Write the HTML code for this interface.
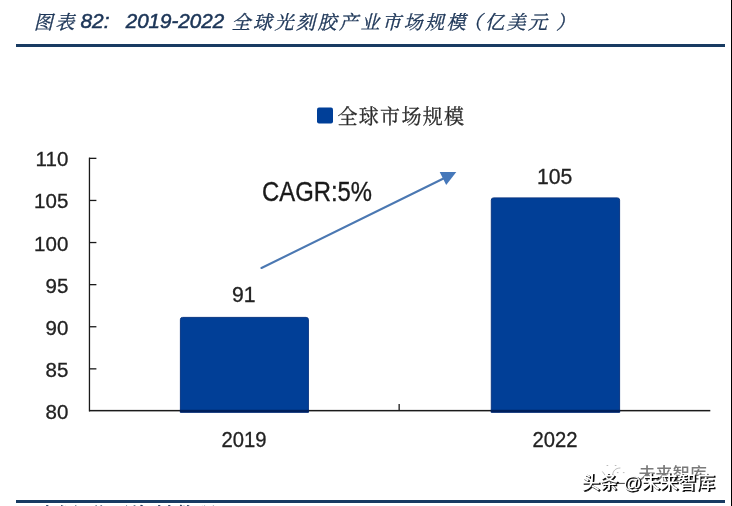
<!DOCTYPE html>
<html lang="zh-CN">
<head>
<meta charset="utf-8">
<title>图表 82: 2019-2022 全球光刻胶产业市场规模（亿美元）</title>
<style>
  html, body { margin: 0; padding: 0; background: #ffffff; }
  body { width: 732px; height: 506px; overflow: hidden; position: relative; }
  svg { display: block; position: absolute; left: 0; top: 0; }
  text { font-family: "Liberation Sans", "Noto Sans CJK SC", sans-serif; }
  .kai { font-family: "Liberation Serif", "Noto Serif CJK SC", serif; }
  .ttl { fill: #1c3557; font-style: italic; }
  .num { fill: #222222; }
  .wm  { font-family: "Liberation Sans", "Noto Sans CJK SC", sans-serif; font-weight: 700; }
</style>
</head>
<body>
<svg width="732" height="506" viewBox="0 0 732 506">
  <rect x="0" y="0" width="732" height="506" fill="#ffffff"/>

  <!-- title -->
  <g class="ttl" stroke="#1c3557" stroke-width="0.35">
    <text class="kai" x="33.8" y="29.2" font-size="19" letter-spacing="2.5">图表</text>
    <text x="80.5" y="28.2" font-size="21" stroke-width="0.55" textLength="29" lengthAdjust="spacingAndGlyphs">82:</text>
    <text x="125.7" y="28.2" font-size="21" stroke-width="0.55" textLength="98.5" lengthAdjust="spacingAndGlyphs">2019-2022</text>
    <text class="kai" x="231.5" y="29.2" font-size="19" letter-spacing="2.5">全球光刻胶产业市场规模<tspan dx="-5">（</tspan><tspan dx="0.5">亿</tspan>美元<tspan dx="6.5">）</tspan></text>
  </g>

  <!-- rules -->
  <rect x="16" y="44" width="709" height="3" fill="#183b62"/>
  <rect x="16" y="500" width="709" height="3" fill="#183b62"/>
  <rect x="731" y="0" width="1" height="506" fill="#000000"/>

  <!-- legend -->
  <rect x="317" y="107.5" width="16" height="16" rx="2" ry="2" fill="#003f98"/>
  <text class="kai" x="337.5" y="123.7" font-size="20" letter-spacing="1.3" fill="#2a2a2a" stroke="#2a2a2a" stroke-width="0.3">全球市场规模</text>

  <!-- axes -->
  <g fill="#1a1a1a">
    <rect x="88.8" y="157.7" width="1.3" height="253.7"/>
    <rect x="89" y="409.9" width="621.3" height="1.5"/>
    <rect x="89" y="157.7" width="7.4" height="1.3"/>
    <rect x="89" y="199.8" width="7.4" height="1.3"/>
    <rect x="89" y="241.9" width="7.4" height="1.3"/>
    <rect x="89" y="284.0" width="7.4" height="1.3"/>
    <rect x="89" y="326.1" width="7.4" height="1.3"/>
    <rect x="89" y="368.2" width="7.4" height="1.3"/>
    <rect x="398.5" y="404" width="1.3" height="7"/>
  </g>

  <!-- y labels -->
  <g class="num" font-size="20.5" text-anchor="end" stroke="#222222" stroke-width="0.3">
    <text x="68.3" y="166.2">110</text>
    <text x="68.3" y="208.3">105</text>
    <text x="68.3" y="250.5">100</text>
    <text x="68.3" y="292.6">95</text>
    <text x="68.3" y="334.7">90</text>
    <text x="68.3" y="376.9">85</text>
    <text x="68.3" y="419.0">80</text>
  </g>

  <!-- bars -->
  <path d="M180.4 412.3 V319.6 Q180.4 317.4 182.6 317.4 H306.2 Q308.4 317.4 308.4 319.6 V412.3 Z" fill="#013f97" stroke="#0a3682" stroke-width="1"/>
  <path d="M491.3 412.3 V200.1 Q491.3 197.9 493.5 197.9 H617.4 Q619.6 197.9 619.6 200.1 V412.3 Z" fill="#013f97" stroke="#0a3682" stroke-width="1"/>
  <rect x="179.9" y="409.8" width="129" height="2.5" fill="#00205c"/>
  <rect x="490.8" y="409.8" width="129.3" height="2.5" fill="#00205c"/>

  <!-- data labels -->
  <g class="num" font-size="21.2" text-anchor="middle" stroke="#222222" stroke-width="0.3">
    <text x="243.7" y="302.3">91</text>
    <text x="554.6" y="184.2">105</text>
    <text x="244" y="447.3" textLength="45" lengthAdjust="spacingAndGlyphs">2019</text>
    <text x="554.9" y="447.2" textLength="45" lengthAdjust="spacingAndGlyphs">2022</text>
  </g>

  <!-- CAGR arrow -->
  <line x1="261.5" y1="268" x2="444" y2="178.3" stroke="#4b78b2" stroke-width="2.1" stroke-linecap="round"/>
  <polygon points="456.3,172 439.7,172.1 446.2,185" fill="#4678ba"/>
  <text x="262" y="201" font-size="27.5" fill="#1a1a1a" stroke="#1a1a1a" stroke-width="0.35" textLength="110" lengthAdjust="spacingAndGlyphs">CAGR:5%</text>

  <!-- watermark -->
  <g>
    <g fill="none" stroke="#a9a9a9" stroke-width="0.8" stroke-linecap="round">
      <path d="M612.6 475 C613 470.5 615.5 468.2 620 468"/>
      <path d="M602.6 471.8 L606 476.4"/>
      <path d="M605.5 480 C609 478.5 611.5 477 613 474.5"/>
      <path d="M607 465.5 h0.8 M615.2 465.5 h0.8 M617.3 472.6 h0.8 M623.3 472.6 h0.8"/>
      <path d="M617 483.4 H625.6" stroke="#444444" stroke-width="1"/>
    </g>
    <text class="wm" x="638.5" y="479.5" font-size="17" fill="#7a7a7a" textLength="68.5" lengthAdjust="spacingAndGlyphs" style="font-weight:500">未来智库</text>
    <text class="wm" x="582.9" y="490.3" font-size="18" fill="#0a0a0a" stroke="#0a0a0a" stroke-width="0.5" textLength="133" lengthAdjust="spacingAndGlyphs" style="font-weight:500">头条 @未来智库</text>
    <text class="wm" x="581.8" y="489" font-size="18" fill="#ffffff" textLength="133" lengthAdjust="spacingAndGlyphs" style="font-weight:500">头条 @未来智库</text>
  </g>

  <!-- cut-off source line -->
  <text class="kai ttl" x="33.8" y="520.6" font-size="19" letter-spacing="2.5" fill="#1c3557" stroke="#1c3557" stroke-width="0.3">来源:公开资料整理</text>
</svg>
</body>
</html>
